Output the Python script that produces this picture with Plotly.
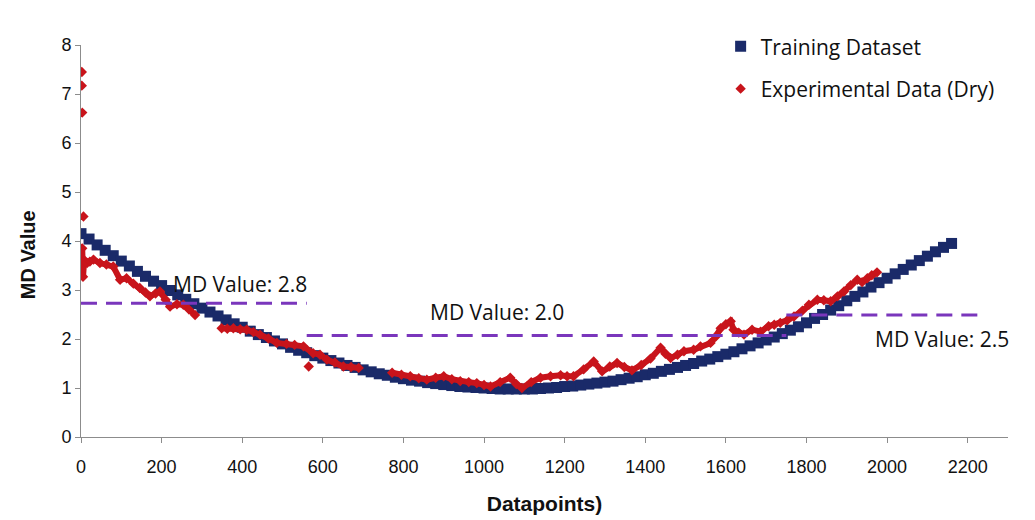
import plotly.graph_objects as go

# Training dataset
train_x = [0, 20, 40, 60, 80, 100, 120, 140, 160, 180, 200, 220, 240, 260, 280, 300, 320, 340, 360, 380,
           400, 420, 440, 460, 480, 500, 520, 540, 560, 580, 600, 620, 640, 660, 680, 700, 720, 740, 760,
           780, 800, 820, 840, 860, 880, 900, 920, 940, 960, 980, 1000, 1020, 1040, 1060, 1080, 1100, 1120,
           1140, 1160, 1180, 1200, 1220, 1240, 1260, 1280, 1300, 1320, 1340, 1360, 1380, 1400, 1420, 1440,
           1460, 1480, 1500, 1520, 1540, 1560, 1580, 1600, 1620, 1640, 1660, 1680, 1700, 1720, 1740, 1760,
           1780, 1800, 1820, 1840, 1860, 1880, 1900, 1920, 1940, 1960, 1980, 2000, 2020, 2040, 2060, 2080,
           2100, 2120, 2140, 2160]
train_y = [4.15, 4.04, 3.92, 3.81, 3.70, 3.59, 3.49, 3.38, 3.28, 3.18, 3.09, 2.99, 2.90, 2.81, 2.72, 2.63,
           2.55, 2.47, 2.39, 2.31, 2.24, 2.16, 2.09, 2.03, 1.96, 1.90, 1.83, 1.77, 1.72, 1.66, 1.61, 1.56,
           1.51, 1.46, 1.42, 1.37, 1.33, 1.29, 1.26, 1.22, 1.19, 1.16, 1.14, 1.11, 1.09, 1.07, 1.05, 1.03,
           1.02, 1.01, 1.00, 0.99, 0.98, 0.98, 0.98, 0.98, 0.98, 0.99, 1.00, 1.01, 1.03, 1.04, 1.06, 1.08,
           1.10, 1.12, 1.14, 1.17, 1.20, 1.23, 1.27, 1.30, 1.34, 1.38, 1.42, 1.46, 1.50, 1.55, 1.59, 1.64,
           1.69, 1.74, 1.80, 1.86, 1.92, 1.98, 2.04, 2.11, 2.18, 2.25, 2.33, 2.42, 2.50, 2.59, 2.68, 2.78,
           2.87, 2.96, 3.06, 3.15, 3.24, 3.33, 3.42, 3.51, 3.60, 3.69, 3.78, 3.87, 3.95]

# Experimental data (Dry), None = gap in the recorded series
exp_x = [3, 5, 8, 15, 22, 31, 47, 63, 80, 97, 113, 130, 146, 160, 171, 185, 196, 210, 221, 238, 254, 268, 283,
         None,
         349, 363, 378, 395, 411, 428, 444, 465, 486, 510, 530, 552, 576, 593, 610, 630, 651, 670, 689,
         None,
         772, 795, 817, 838, 858, 880, 900, 920, 941, 962, 982, 1000, 1016, 1040, 1065, 1080, 1094, 1117,
         1140, 1165, 1190, 1206, 1222, 1247, 1272, 1293, 1312, 1330, 1348, 1367, 1390, 1413, 1438, 1450,
         1463, 1480, 1496, 1520, 1537, 1562, 1575, 1587, 1600, 1612, 1619, 1632, 1645, 1665, 1686, 1706,
         1720, 1735, 1752, 1769, 1790, 1806, 1827, 1843, 1860, 1877, 1893, 1910, 1926, 1938, 1951, 1962, 1975]
exp_y = [3.85, 3.27, 3.61, 3.55, 3.58, 3.62, 3.55, 3.52, 3.48, 3.21, 3.24, 3.13, 3.04, 2.95, 2.87, 2.93, 2.97,
         2.80, 2.66, 2.71, 2.70, 2.60, 2.49,
         None,
         2.22, 2.21, 2.22, 2.20, 2.19, 2.14, 2.09, 2.01, 1.92, 1.90, 1.88, 1.85, 1.71, 1.68, 1.58, 1.52,
         1.44, 1.43, 1.41,
         None,
         1.31, 1.27, 1.24, 1.20, 1.17, 1.21, 1.24, 1.18, 1.14, 1.12, 1.10, 1.06, 1.03, 1.12, 1.21, 1.08,
         1.00, 1.12, 1.21, 1.24, 1.26, 1.24, 1.24, 1.38, 1.54, 1.34, 1.44, 1.51, 1.43, 1.36, 1.47, 1.60,
         1.82, 1.70, 1.61, 1.68, 1.75, 1.78, 1.85, 1.92, 2.05, 2.22, 2.30, 2.36, 2.19, 2.13, 2.09, 2.19,
         2.15, 2.26, 2.29, 2.33, 2.38, 2.46, 2.58, 2.70, 2.80, 2.79, 2.77, 2.87, 2.97, 3.10, 3.21, 3.16,
         3.24, 3.30, 3.36]
# isolated experimental points
exp_out_x = [2, 2, 3, 6, 565]
exp_out_y = [7.45, 7.17, 6.62, 4.50, 1.44]

# MD threshold segments
md_labels = ["MD Value: 2.8", "MD Value: 2.0", "MD Value: 2.5"]
md_x0 = [0, 560, 1750]
md_x1 = [560, 1750, 2240]
md_y = [2.73, 2.07, 2.49]
md_label_x = [395, 1033, 2136]
md_label_y = [3.13, 2.56, 1.99]

x_ticks = [0, 200, 400, 600, 800, 1000, 1200, 1400, 1600, 1800, 2000, 2200]
y_ticks = [0, 1, 2, 3, 4, 5, 6, 7, 8]

NAVY = "#1A2A69"
RED = "#C8141B"
PURPLE = "#7A36BC"

fig = go.Figure()

fig.add_trace(go.Scatter(
    x=train_x, y=train_y, mode="markers", name="Training Dataset",
    marker=dict(symbol="square", size=11, color=NAVY),
    legendgroup="a",
))

fig.add_trace(go.Scatter(
    x=exp_x, y=exp_y, mode="lines", showlegend=False,
    line=dict(color=RED, width=6), connectgaps=False, hoverinfo="skip",
    legendgroup="b",
))
fig.add_trace(go.Scatter(
    x=[v for v in exp_x if v is not None] + exp_out_x,
    y=[v for v in exp_y if v is not None] + exp_out_y,
    mode="markers", name="Experimental Data (Dry)",
    marker=dict(symbol="diamond", size=8, color=RED),
    legendgroup="b",
))

for x0, x1, y in zip(md_x0, md_x1, md_y):
    fig.add_trace(go.Scatter(
        x=[x0, x1], y=[y, y], mode="lines", showlegend=False, hoverinfo="skip",
        line=dict(color=PURPLE, width=3, dash="16px,9px"),
    ))

for lab, lx, ly in zip(md_labels, md_label_x, md_label_y):
    fig.add_annotation(x=lx, y=ly, text=lab, showarrow=False,
                       font=dict(family="Open Sans", size=21, color="#111111"))

# y axis title placed where the reference shows it
fig.add_annotation(x=-0.057, y=0.464, xref="paper", yref="paper", text="<b>MD Value</b>",
                   textangle=-90, showarrow=False, xanchor="center", yanchor="middle",
                   font=dict(family="Liberation Sans", size=20, color="#111111"))

axis_common = dict(
    showgrid=False, zeroline=False, showline=True, linecolor="#8C8C8C", linewidth=1,
    ticks="outside", ticklen=5, tickcolor="#8C8C8C", automargin=False,
    tickfont=dict(family="Liberation Sans", size=18, color="#111111"),
)

fig.update_layout(
    width=1027, height=512,
    margin=dict(l=73, r=27, t=37, b=83),
    paper_bgcolor="white", plot_bgcolor="white",
    xaxis=dict(range=[0, 2300], tickvals=x_ticks, ticktext=[str(v) for v in x_ticks],
               ticklabelstandoff=8,
               title=dict(text="<b>Datapoints)</b>", standoff=20,
                          font=dict(family="Liberation Sans", size=21, color="#111111")),
               **axis_common),
    yaxis=dict(range=[0, 8], tickvals=y_ticks, ticktext=[str(v) for v in y_ticks],
               **axis_common),
    legend=dict(x=0.69, y=1.048, xanchor="left", yanchor="top", bgcolor="rgba(0,0,0,0)",
                font=dict(family="Open Sans", size=21, color="#111111"),
                traceorder="grouped", tracegroupgap=12, itemwidth=30),
    showlegend=True,
)

fig.write_html("out.html")
